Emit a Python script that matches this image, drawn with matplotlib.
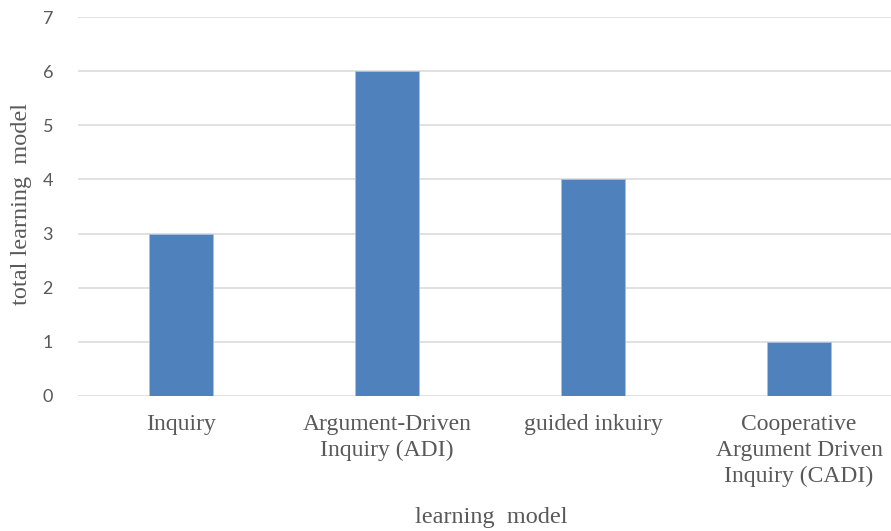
import numpy as np
import matplotlib.pyplot as plt

categories = ["Inquiry", "Argument-Driven\nInquiry (ADI)", "guided inkuiry",
              "Cooperative\nArgument Driven\nInquiry (CADI)"]
counts = [3, 6, 4, 1]
y_ticks = [0, 1, 2, 3, 4, 5, 6, 7]

serif = "Liberation Serif"
txt = "#595959"

fig = plt.figure(figsize=(8.91, 5.31), dpi=100)
# plot area runs a little past the right edge, like the cropped original
ax = fig.add_axes([78 / 891, 135 / 531, 824 / 891, 379 / 531])

x = np.arange(len(categories))
ax.bar(x, counts, width=0.315, color="#4F81BD", edgecolor="#A9BFDD",
       linewidth=0.6, zorder=3)

ax.tick_params(axis="both", length=0)
ax.tick_params(axis="x", pad=13)
ax.tick_params(axis="y", pad=18)

ax.set_xlim(-0.5, len(categories) - 0.5)
ax.set_ylim(0, 7)
ax.set_yticks(y_ticks)
ax.set_yticklabels([str(v) for v in y_ticks])
ax.set_xticks(x)
ax.set_xticklabels(categories)
for lab in ax.get_yticklabels():
    lab.set_fontfamily("Lato")
    lab.set_fontsize(13)
    lab.set_color(txt)
for lab in ax.get_xticklabels():
    lab.set_fontfamily(serif)
    lab.set_fontsize(17)
    lab.set_color(txt)
    lab.set_linespacing(1.3)

ax.grid(axis="y", color="#D9D9D9", linewidth=1.1, zorder=0)
for s in ax.spines.values():
    s.set_visible(False)

fig.text(491 / 891, 1 - 517 / 531, "learning  model", ha="center", va="center",
         fontsize=17.5, family=serif, color=txt)
fig.text(22 / 891, 1 - 204 / 531, "total learning  model", ha="center", va="center",
         rotation=90, fontsize=17.5, family=serif, color=txt)

fig.savefig("out.png", dpi=100)
